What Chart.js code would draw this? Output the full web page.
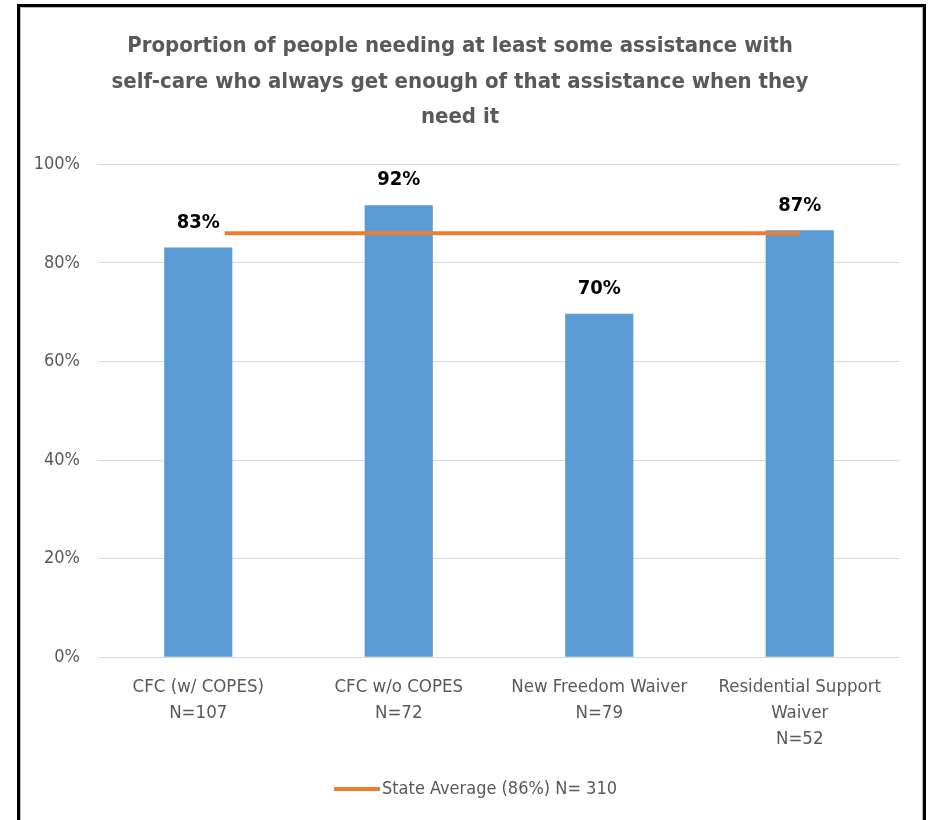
<!DOCTYPE html>
<html>
<head>
<meta charset="utf-8">
<script src="https://cdn.jsdelivr.net/npm/chart.js@4.4.1/dist/chart.umd.min.js"></script>
<style>
  body { margin: 0; background: #fff; }
  #wrap { position: relative; width: 934px; height: 820px; overflow: hidden; }
  #frame {
    position: absolute; left: 17px; top: 4px; width: 903px; height: 840px;
    border: 3px solid #000; border-bottom: none;
    box-shadow: inset 1px 1px 0 #bbb, inset -1px 0 0 #bbb;
  }
  canvas { position: absolute; left: 0; top: 0; }
</style>
</head>
<body>
<div id="wrap">
  <div id="frame"></div>
  <canvas id="chart" width="934" height="820"></canvas>
</div>
<script>
// chart data
const categories = [
    ['CFC (w/ COPES)', 'N=107'],
    ['CFC w/o COPES', 'N=72'],
    ['New Freedom Waiver', 'N=79'],
    ['Residential Support', 'Waiver', 'N=52']
];
const programValues = [83, 92, 70, 87];     // labels shown on bars
const barHeights = [83.1, 91.7, 69.7, 86.6]; // as drawn
const stateAverage = [86, 86, 86, 86];
const yTicks = [0, 20, 40, 60, 80, 100];

const titleLines = [
    'Proportion of people needing at least some assistance with',
    'self-care who always get enough of that assistance when they',
    'need it'
];

const FONT = "'Liberation Sans Narrow', 'DejaVu Sans Condensed', sans-serif";
const ORANGE = '#ED7D31';

// legend marker: orange line sitting on the right side, right next to the text
const legendMark = document.createElement('canvas');
legendMark.width = 84;
legendMark.height = 6;
(function () {
    const c = legendMark.getContext('2d');
    c.fillStyle = ORANGE;
    c.fillRect(38, 1, 46, 4);
})();

// value labels above bars, white box behind them (it hides the start of the orange line)
const barLabels = {
    id: 'barLabels',
    afterDatasetsDraw(chart) {
        const ctx = chart.ctx;
        const meta = chart.getDatasetMeta(0);
        ctx.save();
        ctx.font = 'bold 20px ' + FONT;
        ctx.textAlign = 'center';
        ctx.textBaseline = 'middle';
        meta.data.forEach(function (bar, i) {
            const txt = programValues[i] + '%';
            const w = ctx.measureText(txt).width;
            const y = bar.y - 25;
            ctx.fillStyle = '#fff';
            ctx.fillRect(bar.x - w / 2 - 5, y - 15, w + 10, 30);
            ctx.fillStyle = '#000';
            ctx.fillText(txt, bar.x, y);
        });
        ctx.restore();
    }
};

const ctx = document.getElementById('chart').getContext('2d');
new Chart(ctx, {
    type: 'bar',
    data: {
        labels: categories,
        datasets: [{
            label: 'Programs',
            data: barHeights,
            backgroundColor: '#5B9BD5',
            barPercentage: 0.34,
            categoryPercentage: 1,
            order: 2
        }, {
            type: 'line',
            label: 'State Average (86%) N= 310',
            data: stateAverage,
            borderColor: ORANGE,
            backgroundColor: ORANGE,
            borderWidth: 4,
            pointRadius: 0,
            pointStyle: legendMark,
            order: 1
        }]
    },
    options: {
        responsive: false,
        animation: false,
        layout: { padding: { left: 20, right: 34, top: 0, bottom: 12 } },
        plugins: {
            title: {
                display: true,
                text: titleLines,
                color: '#595959',
                font: { family: FONT, size: 22, weight: 'bold', lineHeight: 1.61 },
                padding: { top: 29, bottom: 29 }
            },
            legend: {
                position: 'bottom',
                labels: {
                    filter: function (item) { return item.datasetIndex === 1; },
                    usePointStyle: true,
                    pointStyleWidth: 70,
                    color: '#595959',
                    font: { family: FONT, size: 18 },
                    padding: 16
                }
            },
            tooltip: { enabled: false }
        },
        scales: {
            x: {
                afterFit: function (scale) { scale.height += 3; },
                grid: { display: false },
                border: { display: false },
                ticks: {
                    color: '#595959',
                    font: { family: FONT, size: 18.5, lineHeight: 1.4 },
                    maxRotation: 0,
                    padding: 9
                }
            },
            y: {
                min: 0,
                max: 100,
                afterFit: function (scale) { scale.width = 78; },
                afterBuildTicks: function (scale) {
                    scale.ticks = yTicks.map(function (v) { return { value: v }; });
                },
                grid: { color: '#D9D9D9', drawTicks: false },
                border: { display: false },
                ticks: {
                    color: '#595959',
                    font: { family: FONT, size: 18 },
                    padding: 18,
                    callback: function (v) { return v + '%'; }
                }
            }
        }
    },
    plugins: [barLabels]
});
</script>
</body>
</html>
